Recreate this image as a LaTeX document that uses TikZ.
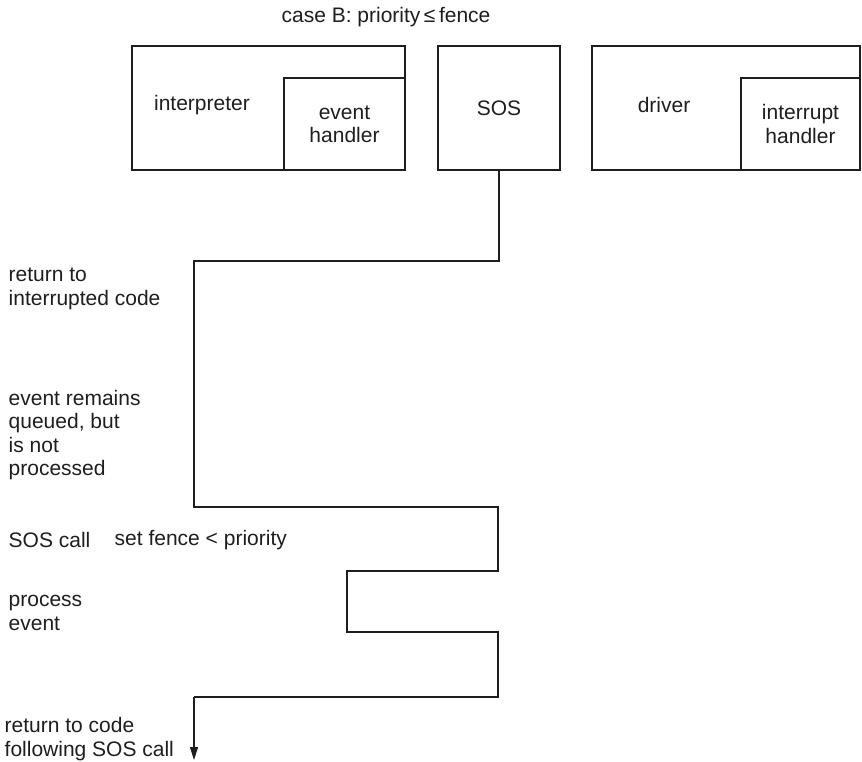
\documentclass[tikz,border=0pt]{standalone}
\usepackage{fontspec}
\setmainfont{Liberation Sans}
\usetikzlibrary{arrows.meta, positioning, calc}
\definecolor{cink}{HTML}{1E1E1E}
\tikzset{
  every picture/.style={font=\fontsize{21}{23.3}\selectfont, line width=1.4pt},
  box/.style={draw=cink, rectangle, inner sep=0pt, align=center, text=cink},
  trace/.style={draw=cink, line width=1.3pt},
  arrow/.style={-{Triangle[length=13pt, width=8pt]}, trace},
  note/.style={text=cink, align=left, anchor=west, inner sep=0pt},
}

\begin{document}
\begin{tikzpicture}[x=1pt, y=-1pt]
  \useasboundingbox (0,0) rectangle (862,761);
  \node[text=cink] (title) at (386,17) {case B: priority\,≤\,fence};
  % the three program units
  \node[box, minimum width=273, minimum height=124] (interp) at (268.5,108) {};
  \node[text=cink] (interptxt) at (202,105) {interpreter};
  \node[box, minimum width=121, minimum height=92] (evh) at (344.5,124) {event\\handler};
  \node[box, minimum width=122, minimum height=124] (sos) at (499,108) {SOS};
  \node[box, minimum width=268, minimum height=124] (drv) at (726,108) {};
  \node[text=cink] (drvtxt) at (664,105) {driver};
  \node[box, minimum width=119, minimum height=92] (inth) at (800.5,124) {interrupt\\handler};
  % turning points of the thread of control
  \coordinate (t1) at (194,261);
  \coordinate (t2) at (498,507);
  \coordinate (t3) at (347,571);
  \coordinate (t4) at (498,632);
  \coordinate (t5) at (194,697);
  \coordinate (tend) at (194,760);
  \draw[trace] (sos.south) |- (t1) |- (t2) |- (t3) |- (t4) |- (t5);
  \draw[arrow] (t5) -- (tend);
  % labels down the left margin
  \node[note] (ret) at (8,289) {return to\\interrupted code};
  \node[note] (queued) at (8,435) {event remains\\queued, but\\is not\\processed};
  \node[note] (call) at (8,540) {SOS call};
  \node[note] (fence) at (114,540) {set fence < priority};
  \node[note] (proc) at (8,613) {process\\event};
  \node[note] (follow) at (4,739) {return to code\\following SOS call};
\end{tikzpicture}
\end{document}
